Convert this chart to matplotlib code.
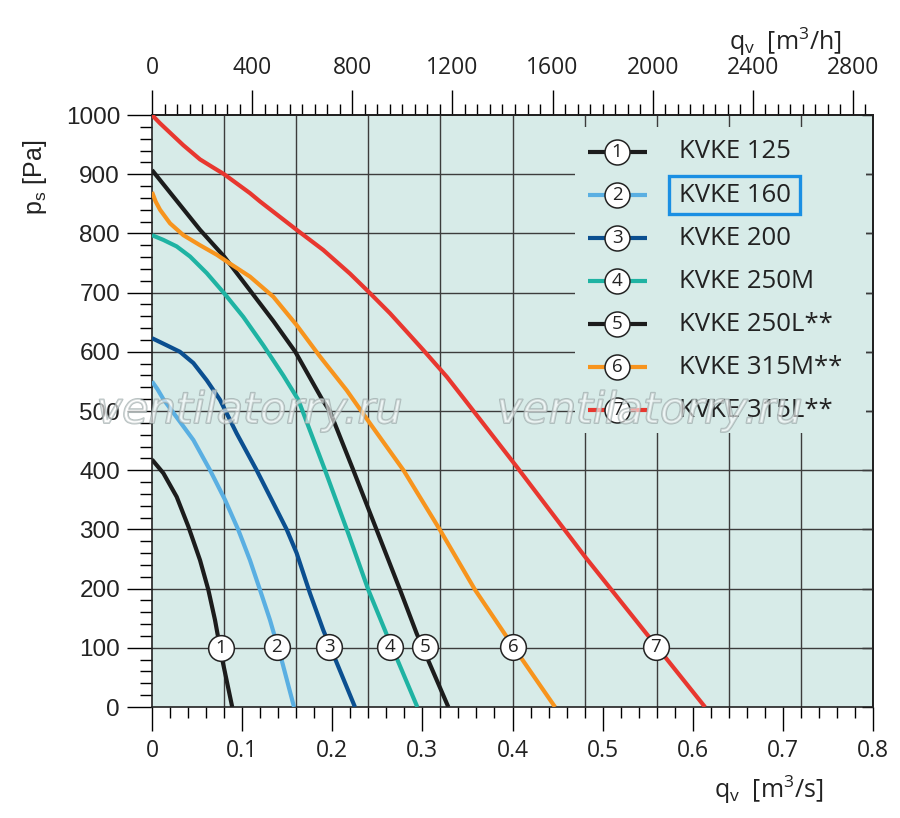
import numpy as np
import matplotlib
matplotlib.use("Agg")
import matplotlib.pyplot as plt
import matplotlib.patheffects as pe
from matplotlib.patches import Rectangle

# fan curves: flow q_v [m3/s] and static pressure p_s [Pa]
names = ["KVKE 125", "KVKE 160", "KVKE 200", "KVKE 250M",
         "KVKE 250L**", "KVKE 315M**", "KVKE 315L**"]
colors = ["#1c1c1c", "#5aafe2", "#0b4f90", "#1fb3a3",
          "#1c1c1c", "#f7941d", "#e8372f"]

q1 = [0, 0.0126, 0.0274, 0.0403, 0.0533, 0.0625, 0.0699, 0.0773, 0.089]
p1 = [418, 395, 355, 305, 248, 198, 147, 85, 0]

q2 = [0, 0.006, 0.0126, 0.0459, 0.0644, 0.081, 0.0958, 0.1087, 0.1198, 0.1309,
      0.1439, 0.1576]
p2 = [550, 537, 520, 451, 400, 350, 299, 248, 198, 147, 79, 0]

q3 = [0, 0.0163, 0.031, 0.0459, 0.0607, 0.0754, 0.094, 0.1161, 0.1328, 0.1494,
      0.1605, 0.1753, 0.19, 0.2252]
p3 = [623, 611, 600, 581, 552, 519, 462, 400, 350, 300, 260, 192, 130, 0]

q4 = [0, 0.0126, 0.0274, 0.0422, 0.0607, 0.08, 0.1013, 0.1235, 0.1457, 0.1623,
      0.192, 0.2178, 0.24, 0.26, 0.2944]
p4 = [797, 789, 778, 761, 733, 699, 659, 611, 560, 519, 400, 293, 198, 124, 0]

q5 = [0, 0.0533, 0.08, 0.1106, 0.1346, 0.159, 0.1883, 0.1975, 0.2234, 0.2493,
      0.2752, 0.2937, 0.3288]
p5 = [907, 806, 761, 700, 652, 600, 521, 499, 400, 299, 198, 124, 0]

q6 = [0, 0.004, 0.0089, 0.02, 0.0348, 0.0533, 0.0718, 0.0865, 0.1087, 0.1346,
      0.1605, 0.1864, 0.216, 0.2419, 0.279, 0.3196, 0.3584, 0.4009, 0.4472]
p6 = [870, 854, 840, 817, 797, 780, 764, 749, 727, 693, 645, 592, 535, 479, 400,
      299, 198, 102, 0]

q7 = [0, 0.0089, 0.0347, 0.0533, 0.066, 0.08, 0.1087, 0.1198, 0.1605, 0.19,
      0.2197, 0.2419, 0.2641, 0.2826, 0.301, 0.327, 0.3455, 0.4046, 0.4804, 0.6136]
p7 = [1000, 986, 949, 925, 913, 900, 868, 854, 806, 772, 732, 699, 665, 634, 603,
      558, 522, 406, 254, 0]

curves_q = [q1, q2, q3, q4, q5, q6, q7]
curves_p = [p1, p2, p3, p4, p5, p6, p7]

# numbered markers on the curves
label_q = [0.0766, 0.1383, 0.1964, 0.2641, 0.3029, 0.4009, 0.559]
label_p = [100, 102, 102, 102, 102, 102, 102]

bg = "#d7ebe8"
grid_c = "#3c3c3c"
num_font = "Open Sans"
left_font = "Liberation Sans"

fig = plt.figure(figsize=(9, 8.18), dpi=100)
ax = fig.add_axes([152 / 900, 1 - 707 / 818, 721 / 900, 592 / 818])
ax.set_facecolor(bg)
ax.set_xlim(0, 0.8)
ax.set_ylim(0, 1000)

# grid: 10 columns, rows every 100 Pa
for gx in np.linspace(0, 0.8, 11)[1:-1]:
    ax.axvline(gx, color=grid_c, lw=1.0, zorder=1)
for gy in range(100, 1000, 100):
    ax.axhline(gy, color=grid_c, lw=1.0, zorder=1)

# legend area covers the grid
ax.add_patch(Rectangle((0.4693, 463), 0.7922 - 0.4693, 980 - 463,
                       facecolor=bg, edgecolor="none", zorder=2))

for q, p, c in zip(curves_q, curves_p, colors):
    ax.plot(q, p, color=c, lw=3.0, solid_capstyle="butt", solid_joinstyle="round",
            zorder=4)

for i, (x, y) in enumerate(zip(label_q, label_p)):
    ax.plot(x, y, "o", ms=18.5, mfc="white", mec="#222222", mew=1.1, zorder=6)
    ax.text(x, y, str(i + 1), ha="center", va="center", fontsize=13.5,
            family=num_font, color="#222222", zorder=7)

# legend drawn by hand
row_y = [0.9375 - 0.0727 * i for i in range(7)]
for i, (name, c) in enumerate(zip(names, colors)):
    y = row_y[i]
    ax.plot([0.6047, 0.6866], [y, y], color=c, lw=3.0, transform=ax.transAxes,
            solid_capstyle="butt", zorder=5)
    ax.plot(0.645, y, "o", ms=18, mfc="white", mec="#222222", mew=1.1,
            transform=ax.transAxes, zorder=6)
    ax.text(0.645, y, str(i + 1), ha="center", va="center", fontsize=13.5,
            family=num_font, color="#222222", transform=ax.transAxes, zorder=7)
    ax.text(0.731, y, name, ha="left", va="center", fontsize=18.5,
            family=num_font, color="#222222", transform=ax.transAxes, zorder=7)
ax.add_patch(Rectangle((0.717, 0.8328), 0.8988 - 0.717, 0.897 - 0.8328,
                       transform=ax.transAxes, facecolor="none",
                       edgecolor="#1a8fe3", lw=2.4, zorder=8))

# watermark
for wx in [0.135, 0.69]:
    ax.text(wx, 0.5, "ventilatorry.ru", transform=ax.transAxes, ha="center",
            va="center", fontsize=31, style="italic", family="DejaVu Sans",
            color=(1, 1, 1, 0.35), zorder=9,
            path_effects=[pe.Stroke(linewidth=1.3, foreground=(0.6, 0.65, 0.65, 0.7)),
                          pe.Normal()])

# bottom axis
ax.set_xticks(np.arange(0, 0.81, 0.1))
ax.set_xticks(np.arange(0, 0.81, 0.02), minor=True)
ax.set_xticklabels(["0", "0.1", "0.2", "0.3", "0.4", "0.5", "0.6", "0.7", "0.8"],
                   family=num_font, fontsize=16.5, color="#222222")
ax.tick_params(axis="x", which="major", direction="out", length=17, width=1.0,
               pad=6, bottom=True, top=False)
ax.tick_params(axis="x", which="minor", direction="out", length=8, width=1.0,
               bottom=True, top=False)

# left axis
ax.set_yticks(range(0, 1001, 100))
ax.set_yticks(range(0, 1001, 20), minor=True)
ax.set_yticklabels([str(v) for v in range(0, 1001, 100)], family=left_font,
                   fontsize=17.5, color="#222222")
ax.tick_params(axis="y", which="major", direction="out", length=18, width=1.0,
               pad=5, left=True, right=False)
ax.tick_params(axis="y", which="minor", direction="out", length=9, width=1.0,
               left=True, right=False)

# short inward ticks on the right spine
ax_r = ax.secondary_yaxis("right")
ax_r.set_yticks(range(0, 1001, 100))
ax_r.set_yticklabels([])
ax_r.tick_params(direction="in", length=8, width=1.0)

# top axis in m3/h
sec = ax.secondary_xaxis("top", functions=(lambda x: x * 3600, lambda x: x / 3600))
sec.set_xticks(range(0, 2801, 400))
sec.set_xticks(range(0, 2881, 50), minor=True)
sec.set_xticklabels([str(v) for v in range(0, 2801, 400)], family=num_font,
                    fontsize=16.5, color="#222222")
sec.tick_params(axis="x", which="major", direction="out", length=18, width=1.0, pad=7)
sec.tick_params(axis="x", which="minor", direction="out", length=8, width=1.0)

for s in ax.spines.values():
    s.set_linewidth(1.2)
    s.set_color("#222222")
ax_r.spines["right"].set_linewidth(1.2)
sec.spines["top"].set_linewidth(1.2)

# axis titles
fig.text(35 / 900, 1 - 177 / 818, r"p$_\mathregular{s}$ [Pa]", rotation=90,
         ha="center", va="center", fontsize=18, family=left_font, color="#222222")
fig.text(842 / 900, 1 - 42 / 818, r"q$_\mathregular{v}$  [m$^\mathregular{3}$/h]",
         ha="right", va="center", fontsize=18, family=num_font, color="#222222")
fig.text(823 / 900, 1 - 790 / 818, r"q$_\mathregular{v}$  [m$^\mathregular{3}$/s]",
         ha="right", va="center", fontsize=18, family=num_font, color="#222222")

fig.savefig("out.png", dpi=100, facecolor="white")
